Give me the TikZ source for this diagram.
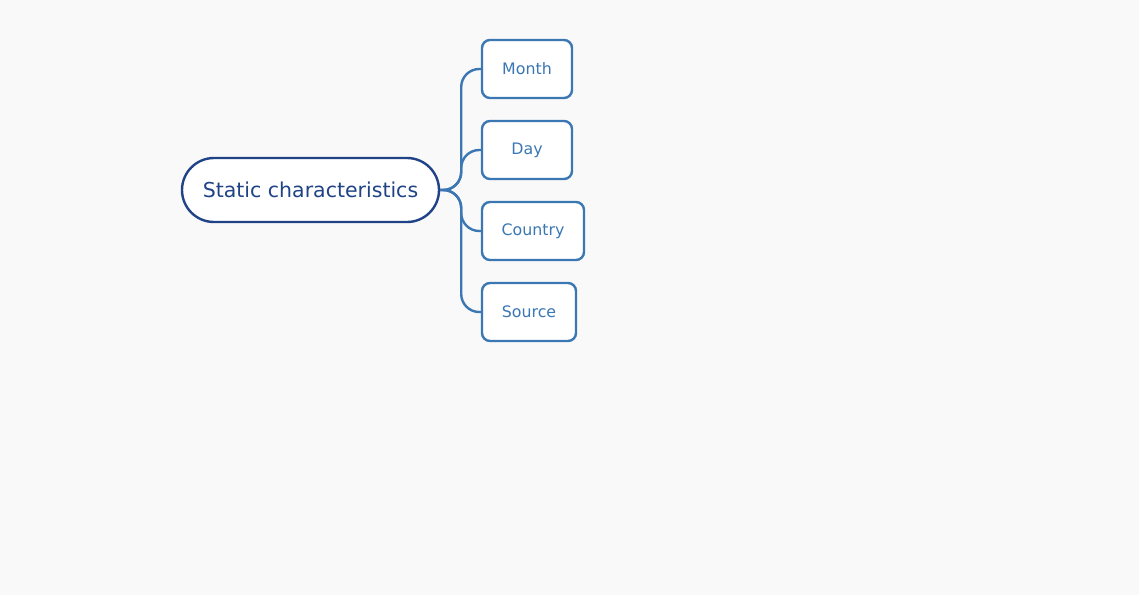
\documentclass[tikz,border=0pt]{standalone}
\usepackage{fontspec}
\setmainfont{DejaVu Sans}
\usepackage{tikz}
\usetikzlibrary{calc}
\definecolor{rootblue}{HTML}{1F4386}
\definecolor{leafblue}{HTML}{3A77B3}
\definecolor{paper}{HTML}{F9F9F9}
\tikzset{topic/.style={draw=rootblue, line width=2.4pt, fill=white, rounded corners=32pt, minimum width=257pt, minimum height=64pt, text=rootblue, font=\fontsize{20.5}{24}\selectfont}}
\tikzset{leaf/.style={draw=leafblue, line width=2.4pt, fill=white, rounded corners=8pt, minimum height=58pt, text=leafblue, font=\fontsize{15.8}{19}\selectfont}}
\tikzset{branch/.style={draw=leafblue, line width=2.4pt, rounded corners=18pt}}

\begin{document}
\begin{tikzpicture}[x=1pt,y=-1pt]
		\fill[paper] (0,0) rectangle (1139,595);
		\useasboundingbox (0,0) rectangle (1139,595);
		
		\node[topic] (sc) at (310.5,190) {Static characteristics};
		\node[leaf, minimum width=90pt] (month) at (527,69) {Month};
		\node[leaf, minimum width=90pt] (day) at (527,150) {Day};
		\node[leaf, minimum width=102pt] (country) at (533,231) {Country};
		\node[leaf, minimum width=94pt] (source) at (529,312) {Source};
		
		
		\foreach \c in {month,day,country,source}
			\draw[branch] (sc.east) -- ++(21,0) |- (\c.west);
		\end{tikzpicture}
\end{document}
